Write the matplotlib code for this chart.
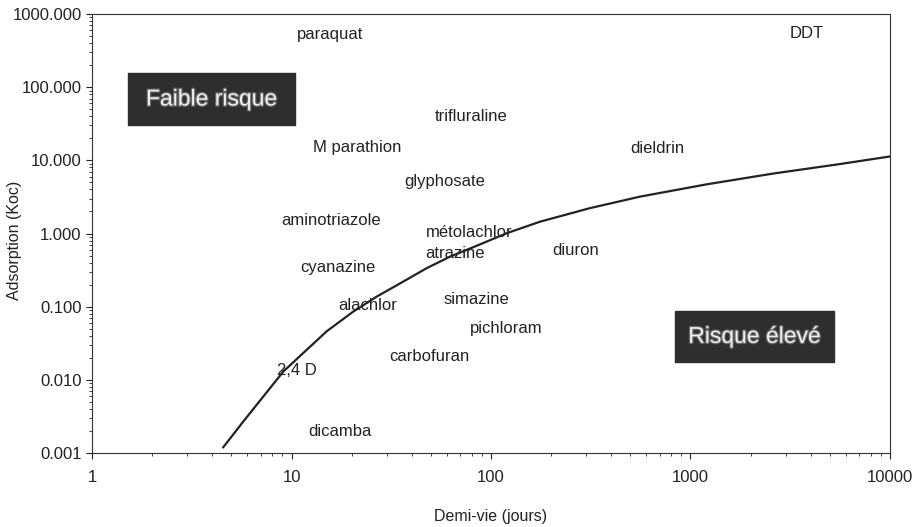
import numpy as np
import matplotlib
matplotlib.use('Agg')
from matplotlib import pyplot as plt
from matplotlib import ticker
import matplotlib.patheffects as pe

plt.rcParams['font.family'] = ['Liberation Sans', 'DejaVu Sans']

# pesticides : demi-vie (jours), adsorption (Koc)
noms = ['paraquat', 'DDT', 'trifluraline', 'M parathion', 'dieldrin', 'glyphosate',
        'aminotriazole', 'métolachlor', 'atrazine', 'diuron', 'cyanazine', 'alachlor',
        'simazine', 'pichloram', 'carbofuran', '2,4 D', 'dicamba']
demi_vie = [10.7, 3150, 52, 12.8, 500, 36.6, 8.9, 47, 47, 202, 11.0, 17.1, 58, 78, 31, 8.5, 12.2]
koc = [520, 550, 40, 15.2, 14.3, 5.1, 1.5, 1.02, 0.53, 0.58, 0.34, 0.103, 0.124, 0.050, 0.021, 0.0133, 0.00195]

# courbe limite
courbe_x = [4.55, 5.73, 7.22, 9.10, 11.5, 15.0, 20.4, 26.7, 36.3, 47.6, 62.3, 81.5, 120, 176,
            313, 558, 1205, 2600, 5610, 10000]
courbe_y = [0.00120, 0.00269, 0.00591, 0.0130, 0.0235, 0.046, 0.0857, 0.137, 0.220, 0.336,
            0.483, 0.65, 1.01, 1.45, 2.22, 3.19, 4.7, 6.6, 8.9, 11.3]

fig = plt.figure(figsize=(9.23, 5.27), dpi=100)
ax = fig.add_axes([0.0997, 0.1404, 0.8645, 0.833])
ax.set_xscale('log')
ax.set_yscale('log')
ax.set_xlim(1, 10000)
ax.set_ylim(0.001, 1000)

ax.plot(courbe_x, courbe_y, color='#222222', lw=1.6)

for nom, x, y in zip(noms, demi_vie, koc):
	ax.text(x, y, nom, fontsize=12, ha='left', va='center', color='#222222')

# zones
for (x0, x1, y0, y1, txt) in [(1.515, 10.4, 30.5, 156, 'Faible risque'),
                              (836, 5236, 0.0176, 0.0877, 'Risque élevé')]:
	ax.fill_between([x0, x1], y0, y1, color='#2e2e2e', zorder=3)
	t = ax.text(np.sqrt(x0 * x1), np.sqrt(y0 * y1), txt, fontsize=16.5, color='#f0f0f0',
	            ha='center', va='center', zorder=4)
	t.set_path_effects([pe.withStroke(linewidth=1.8, foreground='#666666')])

ax.yaxis.set_major_formatter(ticker.FuncFormatter(lambda v, p: f'{v:.3f}'))
ax.xaxis.set_major_formatter(ticker.FuncFormatter(lambda v, p: f'{v:g}'))
ax.xaxis.set_minor_formatter(ticker.NullFormatter())
ax.yaxis.set_minor_formatter(ticker.NullFormatter())
ax.tick_params(which='both', direction='out', labelsize=12, colors='#222222')
ax.tick_params(which='major', length=4)
ax.tick_params(which='minor', length=2.5)
ax.tick_params(axis='x', which='major', pad=8)
fig.text(491 / 923, 1 - 517 / 527, 'Demi-vie (jours)', fontsize=11.5, ha='center', va='center',
         color='#222222')
fig.text(15 / 923, 1 - 240 / 527, 'Adsorption (Koc)', fontsize=11.5, ha='center', va='center',
         rotation=90, color='#222222')
for s in ax.spines.values():
	s.set_color('#333333')

plt.savefig('out.png')
